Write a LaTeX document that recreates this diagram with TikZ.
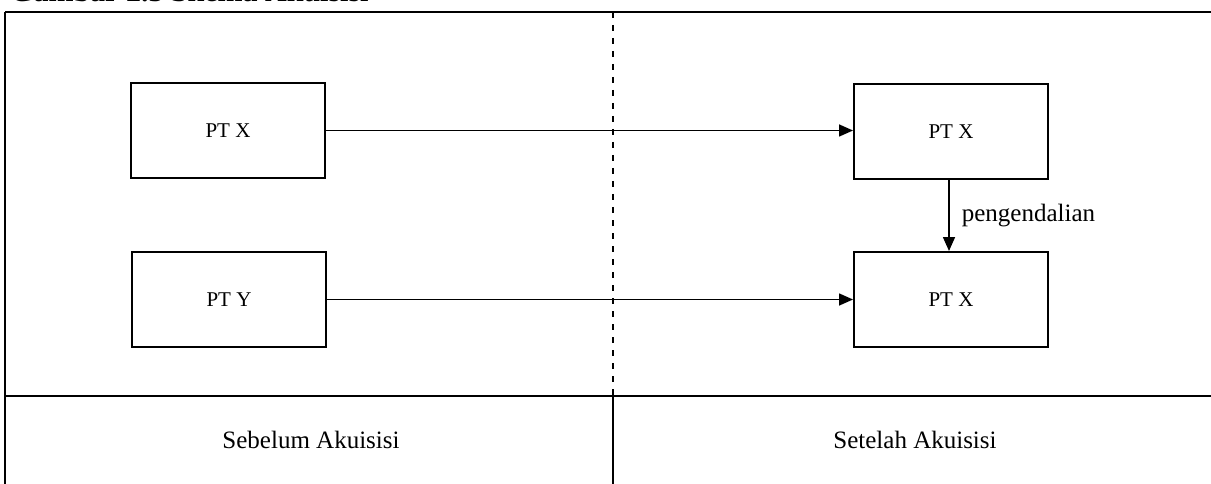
\documentclass[tikz,border=0pt]{standalone}
\usepackage{fontspec}
\setmainfont{Liberation Serif}
\usetikzlibrary{arrows.meta}
\begin{document}
\begin{tikzpicture}[x=1pt,y=-1pt,
  frameline/.style={line width=2.2pt},
  entity/.style={draw,line width=2pt,minimum width=194pt,minimum height=95pt,anchor=north west,inner sep=0pt,font=\fontsize{21}{24}\selectfont},
  flow/.style={line width=1.6pt,-{Triangle[length=14pt,width=12pt]}},
  lbl/.style={inner sep=0pt,font=\fontsize{25}{28}\selectfont}]
\useasboundingbox (0,0) rectangle (1211,484);
% clipped caption at the top edge
\begin{scope}
\clip (0,0) rectangle (1211,484);
\node[anchor=base west,inner sep=0pt,font=\bfseries\fontsize{30}{32}\selectfont] (cap) at (10,2) {Gambar 2.3 Skema Akuisisi};
\end{scope}
% frame
\draw[frameline] (5,12) -- (1211,12);
\draw[frameline] (5,12) -- (5,484);
\draw[frameline] (5,396) -- (1211,396);
\draw[frameline,dash pattern=on 6pt off 7pt] (613,12) -- (613,396);
\draw[frameline] (613,396) -- (613,484);
% boxes
\node[entity] (x1) at (130,82) {PT X};
\node[entity] (y1) at (131,251) {PT Y};
\node[entity] (x2) at (853,83) {PT X};
\node[entity] (x3) at (853,251) {PT X};
% arrows
\draw[flow] (x1.east) -- (x1.east -| x2.west);
\draw[flow] (y1.east) -- (y1.east -| x3.west);
\coordinate (ctop) at (949,178);
\coordinate (cbot) at (949,251);
\draw[flow] (x2.south -| ctop) -- (x3.north -| cbot) node[midway,right=12pt,lbl] (ctl) {pengendalian};
% bottom labels
\node[lbl] (before) at (311,440) {Sebelum Akuisisi};
\node[lbl] (after) at (915,440) {Setelah Akuisisi};
\end{tikzpicture}
\end{document}
